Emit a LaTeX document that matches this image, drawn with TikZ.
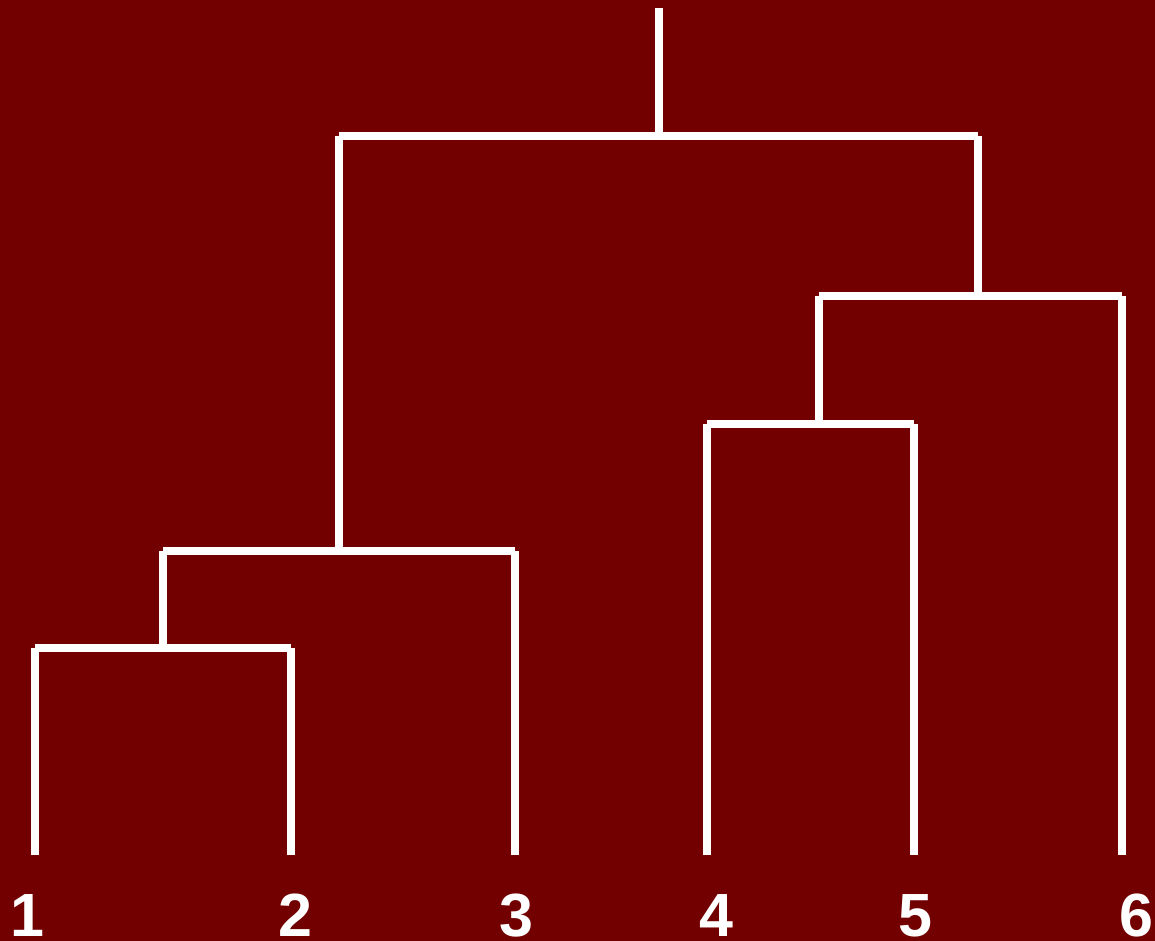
\documentclass[tikz,border=0pt]{standalone}
\usepackage{fontspec}
\setmainfont{Liberation Sans}
\definecolor{bgred}{RGB}{114,0,0}
\begin{document}
\begin{tikzpicture}[x=1pt,y=-1pt,
  branch/.style={draw=white,line width=8pt,line cap=butt},
  leaflabel/.style={text=white,inner sep=0pt,anchor=base,font=\fontsize{61}{61}\selectfont\bfseries}]
\fill[bgred] (0,0) rectangle (1155,941);
\useasboundingbox (0,0) rectangle (1155,941);
% leaves
\coordinate (l1) at (35,855);
\coordinate (l2) at (291,855);
\coordinate (l3) at (515,855);
\coordinate (l4) at (707,855);
\coordinate (l5) at (914,855);
\coordinate (l6) at (1122,855);
% merge corners
\coordinate (a1) at (35,648);  \coordinate (a2) at (291,648);  \coordinate (am) at (163,648);
\coordinate (b1) at (163,551); \coordinate (b2) at (515,551);  \coordinate (bm) at (339,551);
\coordinate (c1) at (707,424); \coordinate (c2) at (914,424);  \coordinate (cm) at (819,424);
\coordinate (d1) at (819,296); \coordinate (d2) at (1122,296); \coordinate (dm) at (978,296);
\coordinate (e1) at (339,136); \coordinate (e2) at (978,136);  \coordinate (em) at (659,136);
\coordinate (root) at (659,8);
% branches
\draw[branch] (l1) -- (a1);
\draw[branch] (l2) -- (a2);
\draw[branch] (a1) -- (a2);
\draw[branch] (am) -- (b1);
\draw[branch] (l3) -- (b2);
\draw[branch] (b1) -- (b2);
\draw[branch] (l4) -- (c1);
\draw[branch] (l5) -- (c2);
\draw[branch] (c1) -- (c2);
\draw[branch] (cm) -- (d1);
\draw[branch] (l6) -- (d2);
\draw[branch] (d1) -- (d2);
\draw[branch] (bm) -- (e1);
\draw[branch] (dm) -- (e2);
\draw[branch] (e1) -- (e2);
\draw[branch] (em) -- (root);
% labels
\node[leaflabel] (t1) at (27,936) {1};
\node[leaflabel] (t2) at (295,936) {2};
\node[leaflabel] (t3) at (516,936) {3};
\node[leaflabel] (t4) at (716,936) {4};
\node[leaflabel] (t5) at (915,936) {5};
\node[leaflabel] (t6) at (1136,936) {6};
\end{tikzpicture}
\end{document}
